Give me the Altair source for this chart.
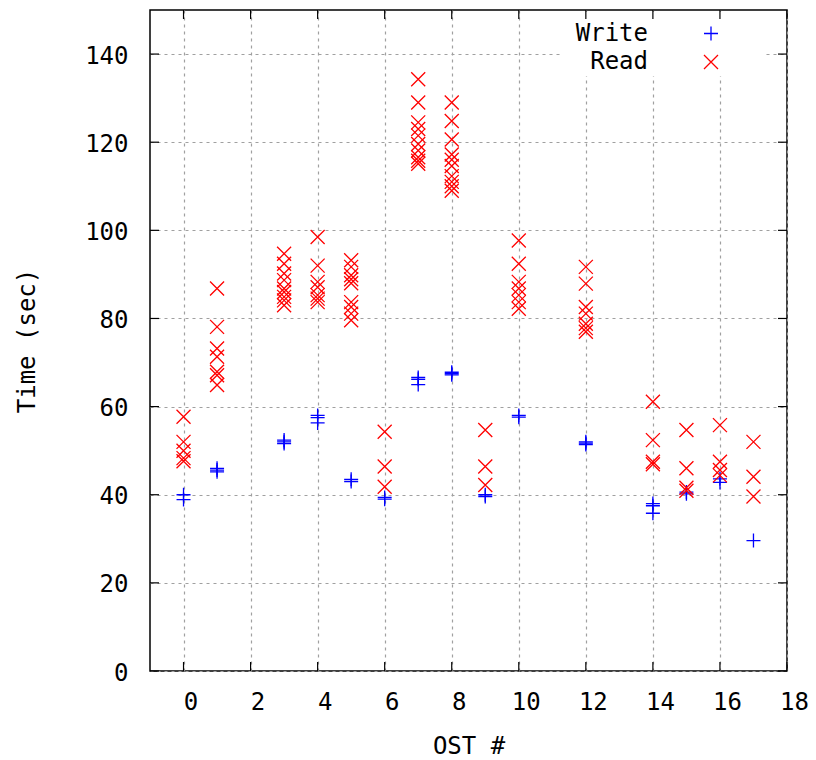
import altair as alt
import pandas as pd

# ---------------- data ----------------
write_ost = [0, 0,
             1, 1, 1,
             3, 3, 3,
             4, 4, 4,
             5, 5,
             6, 6,
             7, 7, 7,
             8, 8, 8,
             9, 9,
             10, 10,
             12, 12, 12,
             14, 14, 14,
             15, 15,
             16, 16,
             17]
write_time = [40.0, 38.9,
              45.2, 45.6, 46.0,
              51.6, 52.0, 52.4,
              58.0, 57.5, 56.3,
              43.0, 43.5,
              39.0, 39.4,
              66.6, 66.2, 65.0,
              67.2, 67.5, 67.8,
              39.6, 40.0,
              57.6, 58.0,
              51.4, 51.7, 52.0,
              37.5, 38.0, 35.8,
              40.2, 40.6,
              42.8, 43.6,
              29.6]

read_ost = [0] * 5 + [1] * 7 + [3] * 9 + [4] * 7 + [5] * 9 + [6] * 3 + [7] * 10 + \
           [8] * 10 + [9] * 3 + [10] * 7 + [12] * 7 + [14] * 4 + [15] * 4 + [16] * 4 + [17] * 3
read_time = [57.7, 52.0, 50.0, 48.3, 47.6,
             86.8, 78.1, 73.2, 71.3, 67.9, 67.1, 64.9,
             94.7, 92.4, 90.2, 88.7, 86.8, 86.0, 84.9, 84.1, 83.0,
             98.5, 92.0, 88.3, 87.1, 85.3, 84.5, 83.7,
             93.2, 91.7, 89.8, 88.9, 88.0, 83.7, 82.6, 81.1, 79.6,
             54.3, 46.4, 41.8,
             134.3, 129.0, 124.5, 123.0, 121.5, 119.6, 118.1, 116.6, 115.8, 115.1,
             129.0, 124.8, 120.6, 117.2, 116.0, 114.6, 112.3, 111.0, 110.0, 109.0,
             54.7, 46.4, 42.2,
             97.7, 92.4, 88.3, 86.8, 85.3, 83.7, 82.2,
             91.7, 87.9, 82.6, 81.1, 78.8, 77.8, 77.0,
             61.1, 52.4, 47.5, 46.9,
             54.7, 46.0, 41.6, 40.9,
             55.8, 47.5, 45.6, 44.4,
             52.0, 44.1, 39.6]

x_ticks = list(range(0, 19, 2))
y_ticks = list(range(0, 141, 20))
legend_labels = ["Write", "Read"]

# ---------------- style ----------------
W, H = 637, 661
FONT = "DejaVu Sans Mono"
FS = 24
PLUS = "M -1 0 L 1 0 M 0 -1 L 0 1"
CROSS = "M -1 -1 L 1 1 M -1 1 L 1 -1"
MSIZE = 196
TICK = 9

xscale = alt.Scale(domain=[-1, 18], nice=False, zero=False)
yscale = alt.Scale(domain=[0, 150], nice=False, zero=False)

write_df = pd.DataFrame({"ost": write_ost, "time": write_time})
read_df = pd.DataFrame({"ost": read_ost, "time": read_time})
xt_df = pd.DataFrame({"ost": x_ticks})
yt_df = pd.DataFrame({"time": y_ticks})

x_axis = alt.Axis(values=x_ticks, title="OST #", grid=True, gridDash=[3, 4],
                  gridColor="#a0a0a0", gridWidth=1.2, ticks=False, domain=False,
                  labelFont=FONT, labelFontSize=FS, labelColor="black",
                  labelPadding=31, labelBaseline="middle", labelOffset=7,
                  labelFlush=False, labelOverlap=False,
                  titleFont=FONT, titleFontSize=FS, titleFontWeight="normal",
                  titleColor="black", titleX=W / 2, titleY=75,
                  titleBaseline="middle", titleAlign="center")
y_axis = alt.Axis(values=y_ticks, title="Time (sec)", grid=True, gridDash=[3, 4],
                  gridColor="#a0a0a0", gridWidth=1.2, ticks=False, domain=False,
                  labelFont=FONT, labelFontSize=FS, labelColor="black",
                  labelPadding=22, labelBaseline="middle", labelOffset=2,
                  labelFlush=False, labelOverlap=False,
                  titleFont=FONT, titleFontSize=FS, titleFontWeight="normal",
                  titleColor="black", titleX=-123, titleY=H / 2,
                  titleAngle=270, titleBaseline="middle", titleAlign="center")


def X():
    return alt.X("ost:Q", scale=xscale, axis=x_axis, title="OST #")


def Y():
    return alt.Y("time:Q", scale=yscale, axis=y_axis, title="Time (sec)")


write_layer = alt.Chart(write_df).mark_point(
    shape=PLUS, size=MSIZE, color="#0000ff", strokeWidth=1.3, filled=False, opacity=1
).encode(x=X(), y=Y())

read_layer = alt.Chart(read_df).mark_point(
    shape=CROSS, size=MSIZE, color="#ff0000", strokeWidth=1.3, filled=False, opacity=1
).encode(x=X(), y=Y())

# key background (gnuplot blanks the key area)
key_bg = alt.Chart(pd.DataFrame({"k": [0]})).mark_rect(color="white", opacity=1).encode(
    x=alt.value(412), x2=alt.value(616), y=alt.value(2), y2=alt.value(66)
)

# inward tick marks on all four sides
tick_style = dict(color="black", strokeWidth=1.2)
left_ticks = alt.Chart(yt_df).mark_rule(**tick_style).encode(
    y=Y(), x=alt.value(0), x2=alt.value(TICK))
right_ticks = alt.Chart(yt_df).mark_rule(**tick_style).encode(
    y=Y(), x=alt.value(W - TICK), x2=alt.value(W))
bottom_ticks = alt.Chart(xt_df).mark_rule(**tick_style).encode(
    x=X(), y=alt.value(H - TICK), y2=alt.value(H))
top_ticks = alt.Chart(xt_df).mark_rule(**tick_style).encode(
    x=X(), y=alt.value(0), y2=alt.value(TICK))

# manual key (label left of symbol, like gnuplot)
text_style = dict(font=FONT, fontSize=FS, color="black", align="right", baseline="middle")
key_write_text = alt.Chart(pd.DataFrame({"label": [legend_labels[0]]})).mark_text(**text_style).encode(
    text="label:N", x=alt.value(498), y=alt.value(24))
key_read_text = alt.Chart(pd.DataFrame({"label": [legend_labels[1]]})).mark_text(**text_style).encode(
    text="label:N", x=alt.value(498), y=alt.value(52))
key_write_sym = alt.Chart(pd.DataFrame({"label": [legend_labels[0]]})).mark_point(
    shape=PLUS, size=MSIZE, color="#0000ff", strokeWidth=1.3, filled=False, opacity=1).encode(
    x=alt.value(561), y=alt.value(23.5))
key_read_sym = alt.Chart(pd.DataFrame({"label": [legend_labels[1]]})).mark_point(
    shape=CROSS, size=MSIZE, color="#ff0000", strokeWidth=1.3, filled=False, opacity=1).encode(
    x=alt.value(561), y=alt.value(52))

chart = alt.layer(
    write_layer, key_bg, left_ticks, right_ticks, bottom_ticks, top_ticks,
    read_layer, key_write_text, key_read_text, key_write_sym, key_read_sym,
).resolve_scale(x="shared", y="shared").properties(
    width=W, height=H,
    padding={"left": 150, "top": 10, "right": 29, "bottom": 89},
    autosize=alt.AutoSizeParams(type="none"),
    background="white",
).configure_view(
    stroke="black", strokeWidth=1.5
)

chart.save("out.html", embed_options={"renderer": "svg", "actions": False})
